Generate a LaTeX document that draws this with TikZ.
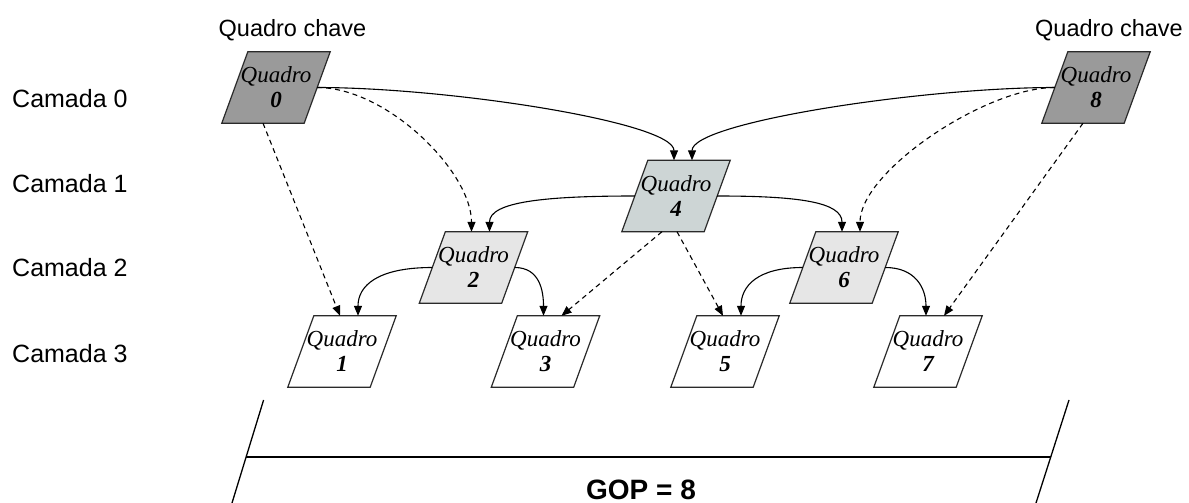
\documentclass[tikz,border=0pt]{standalone}
\usepackage{fontspec}
\setmainfont{Liberation Serif}
\newfontfamily\arialf{Liberation Sans}
\usetikzlibrary{arrows.meta,backgrounds,calc}
\definecolor{keygray}{HTML}{9A9A9A}
\definecolor{midblue}{HTML}{CDD5D5}
\definecolor{lightfill}{HTML}{E6E6E6}
\definecolor{edgegray}{HTML}{2A2A2A}
\tikzset{
  frame/.style={rectangle, minimum width=82pt, minimum height=71pt, inner sep=0pt, align=center,
    font=\fontsize{23}{25}\selectfont\itshape},
  para/.style={draw=edgegray, line width=1.2pt},
  link/.style={line width=1.1pt, -{Triangle[length=10pt,width=8pt]}},
  dlink/.style={link, dash pattern=on 5pt off 4pt},
  layerlabel/.style={font=\arialf\fontsize{25}{30}\selectfont, anchor=west, inner sep=0pt},
  keylabel/.style={font=\arialf\fontsize{23.5}{28}\selectfont, inner sep=0pt},
  goplabel/.style={font=\arialf\bfseries\fontsize{28}{32}\selectfont, inner sep=0pt},
  bracket/.style={line width=1.3pt},
}
\newcommand\parabox[2]{%
  \draw[para, fill=#2] ([xshift=13pt]#1.north west) -- ([xshift=13pt]#1.north east)
    -- ([xshift=-13pt]#1.south east) -- ([xshift=-13pt]#1.south west) -- cycle;}
\begin{document}
\begin{tikzpicture}[x=1pt,y=-1pt]
\useasboundingbox (0,0) rectangle (1189,503);

% layer labels
\node[layerlabel] (c0) at (12,99) {Camada 0};
\node[layerlabel] (c1) at (12,183.5) {Camada 1};
\node[layerlabel] (c2) at (12,268) {Camada 2};
\node[layerlabel] (c3) at (12,353.5) {Camada 3};

\node[keylabel] (k0) at (292.5,30) {Quadro chave};
\node[keylabel] (k8) at (1109,30) {Quadro chave};

% frames
\node[frame] (Q0) at (276,87.5) {Quadro\\\textbf{0}};
\node[frame] (Q8) at (1096,87.5) {Quadro\\\textbf{8}};
\node[frame] (Q4) at (676,196) {Quadro\\\textbf{4}};
\node[frame] (Q2) at (473.5,267.5) {Quadro\\\textbf{2}};
\node[frame] (Q6) at (844,267.5) {Quadro\\\textbf{6}};
\node[frame] (Q1) at (342,351.5) {Quadro\\\textbf{1}};
\node[frame] (Q3) at (545.5,351.5) {Quadro\\\textbf{3}};
\node[frame] (Q5) at (725,351.5) {Quadro\\\textbf{5}};
\node[frame] (Q7) at (928,351.5) {Quadro\\\textbf{7}};

\begin{scope}[on background layer]
  \parabox{Q0}{keygray}
  \parabox{Q8}{keygray}
  \parabox{Q4}{midblue}
  \parabox{Q2}{lightfill}
  \parabox{Q6}{lightfill}
  \parabox{Q1}{white}
  \parabox{Q3}{white}
  \parabox{Q5}{white}
  \parabox{Q7}{white}
\end{scope}

% solid references
\draw[link] (Q0.east) .. controls +(132,0) and +(0,-38) .. ([xshift=-2pt]Q4.north);
\draw[link] (Q8.west) .. controls +(-132,0) and +(0,-38) .. ([xshift=16pt]Q4.north);
\draw[link] (Q4.west) .. controls +(-90,0) and +(0,-30) .. ([xshift=16pt]Q2.north);
\draw[link] (Q4.east) .. controls +(80,0) and +(0,-30) .. ([xshift=-2pt]Q6.north);
\draw[link] (Q2.west) .. controls +(-55,0) and +(0,-30) .. ([xshift=16pt]Q1.north);
\draw[link] (Q2.east) .. controls +(25,0) and +(0,-25) .. ([xshift=-2pt]Q3.north);
\draw[link] (Q6.west) .. controls +(-45,0) and +(0,-30) .. ([xshift=16pt]Q5.north);
\draw[link] (Q6.east) .. controls +(30,0) and +(0,-28) .. ([xshift=-2pt]Q7.north);

% dashed references
\draw[dlink] (Q0.east) .. controls +(70,0) and +(0,-60) .. ([xshift=-2pt]Q2.north);
\draw[dlink] (Q8.west) .. controls +(-70,0) and +(0,-60) .. ([xshift=16pt]Q6.north);
\draw[dlink] ([xshift=-13pt]Q0.south) -- ([xshift=-2pt]Q1.north);
\draw[dlink] ([xshift=-13pt]Q8.south) -- ([xshift=16pt]Q7.north);
\draw[dlink] ([xshift=-14pt]Q4.south) -- ([xshift=16pt]Q3.north);
\draw[dlink] ([xshift=1pt]Q4.south) -- ([xshift=-2pt]Q5.north);

% GOP bracket
\coordinate (bl1) at (263.6,400);
\coordinate (bl2) at (232,503);
\coordinate (br1) at (1069,400);
\coordinate (br2) at (1036,503);
\draw[bracket] (bl1) -- (bl2);
\draw[bracket] (br1) -- (br2);
\draw[line width=1.8pt] (245.5,457) -- (1050.5,457);
\node[goplabel] (gop) at (641,489.5) {GOP = 8};
\end{tikzpicture}
\end{document}
